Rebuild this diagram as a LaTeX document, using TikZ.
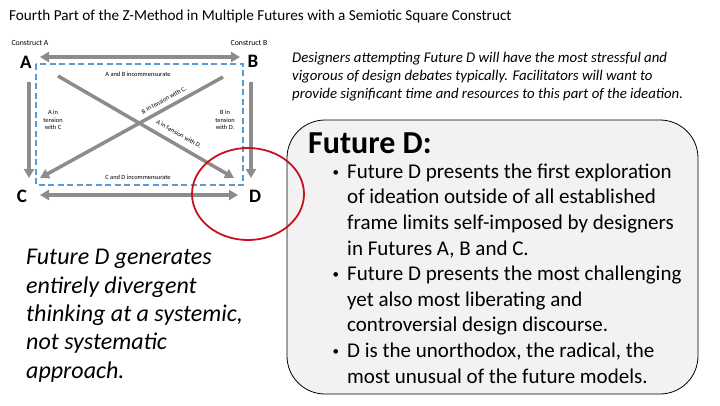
\documentclass[tikz,border=0pt]{standalone}
\usepackage{fontspec}
\setmainfont{Carlito}
\usetikzlibrary{arrows.meta,positioning}
\definecolor{arrowgray}{RGB}{140,140,140}
\definecolor{dashblue}{RGB}{91,155,213}
\definecolor{circred}{RGB}{200,16,30}
\definecolor{boxfill}{RGB}{242,242,242}
\newcommand{\pointmark}{\llap{\raisebox{2pt}{\fontsize{13}{13}\selectfont\textbullet}\hspace{8pt}}}
\begin{document}
\begin{tikzpicture}[x=1pt,y=-1pt,
  corner/.style={font=\bfseries\fontsize{19}{21}\selectfont,anchor=base},
  construct/.style={font=\fontsize{7.8}{9}\selectfont,anchor=base},
  tiny/.style={font=\fontsize{6.4}{7.4}\selectfont,align=center,inner sep=0pt},
  para/.style={anchor=base west,align=left,inner sep=0pt},
  arr/.style={line width=3.5pt,draw=arrowgray,-{Triangle[length=9pt,width=10pt]}},
  biarr/.style={arr,{Triangle[length=9pt,width=10pt]}-{Triangle[length=9pt,width=10pt]}}]
\useasboundingbox (0,0) rectangle (720,405);
\node[para,font=\fontsize{15.2}{18}\selectfont] (title) at (9,20) {Fourth Part of the Z-Method in Multiple Futures with a Semiotic Square Construct};
\node[construct] (consA) at (30,45) {Construct A};
\node[construct] (consB) at (249,45) {Construct B};
\node[corner] (A) at (26,68) {A};
\node[corner] (B) at (253,67) {B};
\node[corner] (C) at (22,202) {C};
\node[corner] (D) at (255,202) {D};
\coordinate (ab1) at (40,57); \coordinate (ab2) at (240,57);
\coordinate (cd1) at (40,195); \coordinate (cd2) at (238,195);
\coordinate (ac1) at (29,82); \coordinate (ac2) at (29,178);
\coordinate (bd1) at (251,82); \coordinate (bd2) at (251,178);
\coordinate (ad1) at (58,76); \coordinate (ad2) at (234,178);
\coordinate (bc1) at (223,77); \coordinate (bc2) at (40,178);
\draw[dashblue,line width=1.8pt,dash pattern=on 6pt off 3.5pt] (36,64) rectangle (243,185);
\draw[biarr] (ab1) -- (ab2);
\draw[biarr] (cd1) -- (cd2);
\draw[arr] (ac1) -- (ac2);
\draw[arr] (bd1) -- (bd2);
\draw[arr] (ad1) -- (ad2);
\draw[arr] (bc1) -- (bc2);
\node[tiny] (abtxt) at (138,74) {A and B incommensurate};
\node[tiny] (cdtxt) at (138,177) {C and D incommensurate};
\node[tiny] (actxt) at (53,120) {A in\\tension\\with C};
\node[tiny] (bdtxt) at (225,120) {B in\\tension\\with D.};
\node[tiny,rotate=29] (bctxt) at (164,100) {B in tension with C.};
\node[tiny,rotate=-30] (adtxt) at (179,134) {A in tension with D.};
\node[para,font=\itshape\fontsize{14.8}{18}\selectfont] (note) at (292,98) {Designers attempting Future D will have the most stressful and\\vigorous of design debates typically. Facilitators will want to\\provide significant time and resources to this part of the ideation.};
\draw[fill=boxfill,line width=0.8pt,rounded corners=38pt] (287,120) rectangle (698,394);
\draw[circred,line width=1.8pt] (248,194) ellipse [x radius=56, y radius=46];
\node[para,font=\bfseries\fontsize{32}{35}\selectfont] (head) at (308,153) {Future D:};
\node[para,font=\fontsize{21}{25.6}\selectfont] (points) at (347,383) {\pointmark Future D presents the first exploration\\of ideation outside of all established\\frame limits self-imposed by designers\\in Futures A, B and C.\\\pointmark Future D presents the most challenging\\yet also most liberating and\\controversial design discourse.\\\pointmark D is the unorthodox, the radical, the\\most unusual of the future models.};
\node[para,font=\itshape\fontsize{24}{28.3}\selectfont] (claim) at (26,378) {Future D generates\\entirely divergent\\thinking at a systemic,\\not systematic\\approach.};
\end{tikzpicture}
\end{document}
